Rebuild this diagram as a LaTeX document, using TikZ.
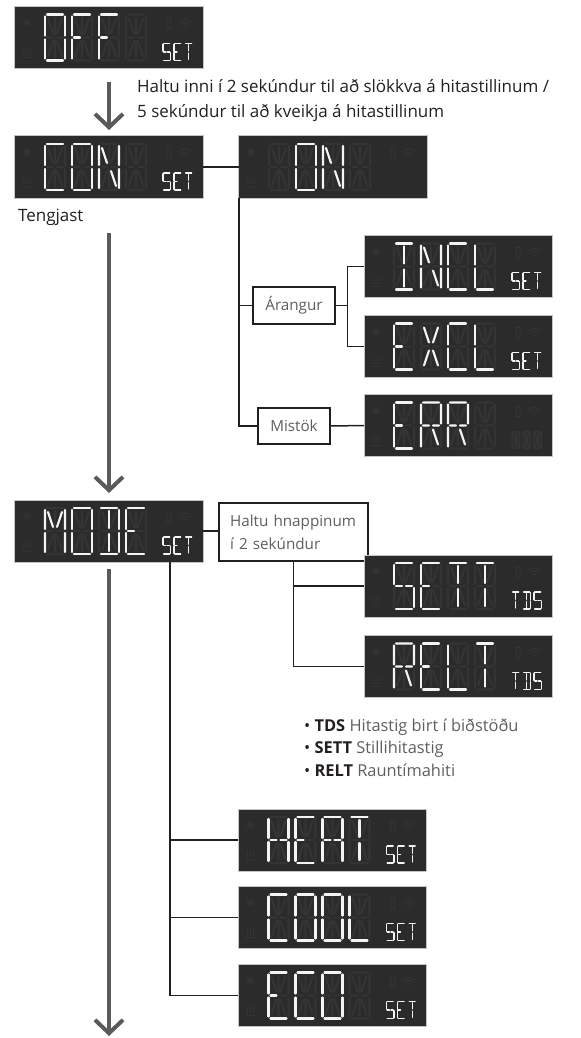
\documentclass[tikz,border=0pt]{standalone}
\usepackage{fontspec}
\setmainfont{Open Sans}
\usetikzlibrary{arrows.meta}

\tikzset{
  sg/a/.style={insert path={(2,0)--(18,0)}},
  sg/b/.style={insert path={(20,2)--(20,21)}},
  sg/c/.style={insert path={(20,25)--(20,44)}},
  sg/d/.style={insert path={(2,46)--(18,46)}},
  sg/e/.style={insert path={(0,25)--(0,44)}},
  sg/f/.style={insert path={(0,2)--(0,21)}},
  sg/g/.style={insert path={(2,23)--(8,23)}},
  sg/p/.style={insert path={(12,23)--(18,23)}},
  sg/h/.style={insert path={(3,4)--(8,19)}},
  sg/i/.style={insert path={(10,3)--(10,20)}},
  sg/j/.style={insert path={(17,4)--(12,19)}},
  sg/k/.style={insert path={(8,27)--(3,42)}},
  sg/l/.style={insert path={(10,26)--(10,43)}},
  sg/m/.style={insert path={(12,27)--(17,42)}},
  ch/all/.style={sg/a,sg/b,sg/c,sg/d,sg/e,sg/f,sg/g,sg/p,sg/h,sg/i,sg/j,sg/k,sg/l,sg/m},
  ch/none/.style={},
  ch/A/.style={sg/a,sg/b,sg/c,sg/e,sg/f,sg/g,sg/p},
  ch/C/.style={sg/a,sg/d,sg/e,sg/f},
  ch/D/.style={sg/a,sg/b,sg/c,sg/d,sg/i,sg/l},
  ch/E/.style={sg/a,sg/d,sg/e,sg/f,sg/g},
  ch/F/.style={sg/a,sg/e,sg/f,sg/g},
  ch/H/.style={sg/b,sg/c,sg/e,sg/f,sg/g,sg/p},
  ch/I/.style={sg/a,sg/d,sg/i,sg/l},
  ch/L/.style={sg/d,sg/e,sg/f},
  ch/M/.style={sg/b,sg/c,sg/e,sg/f,sg/h,sg/j},
  ch/N/.style={sg/b,sg/c,sg/e,sg/f,sg/h,sg/m},
  ch/O/.style={sg/a,sg/b,sg/c,sg/d,sg/e,sg/f},
  ch/R/.style={sg/a,sg/b,sg/e,sg/f,sg/g,sg/p,sg/m},
  ch/S/.style={sg/a,sg/c,sg/d,sg/f,sg/g,sg/p},
  ch/T/.style={sg/a,sg/i,sg/l},
  ch/X/.style={sg/h,sg/j,sg/k,sg/m},
}

\newcommand\lcd[4]{%
  \node[lcd] (#1) at (#2) {};
  \begin{scope}[shift={(#1.north west)}]
    \foreach \c in {1,...,4}{\draw[dim,shift={(3+27*\c,8)},ch/all];}
    \foreach \c/\l in {#3}{\draw[lit,shift={(3+27*\c,8)},ch/\l];}
    \foreach \l [count=\c] in {#4}{\draw[small,shift={(137+11*\c,37)},scale=0.37,ch/\l];}
    \draw[dim,line width=0.3mm] (8,16)--(16,16) (12,12)--(12,20) (9,13)--(15,19) (9,19)--(15,13)
      (7,51)--(17,51) (9,48)--(9,42) (12,48)--(12,42) (15,48)--(15,42)
      (152,12) rectangle (156,22);
    \foreach \r in {3,6,9}{\draw[dim,line width=0.3mm] (170,22) ++(225:\r) arc[start angle=225,end angle=315,radius=\r];}
  \end{scope}}

\begin{document}
\begin{tikzpicture}[x=0.03cm,y=-0.03cm,font=\fontsize{14.5}{21.25}\selectfont,
  lcd/.style={draw=lcdrim,line width=0.3mm,fill=lcdbg,minimum width=56.4mm,minimum height=18.6mm,inner sep=0pt,outer sep=0pt},
  lit/.style={draw=lcdon,line width=0.65mm,line cap=round},
  dim/.style={draw=lcdoff,line width=0.65mm,line cap=round},
  small/.style={draw=lcdon,line width=0.4mm,line cap=round},
  wire/.style={draw=ink,line width=0.45mm},
  flow/.style={draw=flowc,line width=1.2mm,-{Straight Barb[length=4mm,width=8.4mm]}},
  note/.style={draw=ink,line width=0.35mm,fill=white,text=soft,inner sep=0pt,font=\fontsize{13}{20}\selectfont}]
  \definecolor{lcdbg}{HTML}{2B2B2B}
  \definecolor{lcdrim}{HTML}{C4C4C4}
  \definecolor{lcdon}{HTML}{F4F4F4}
  \definecolor{lcdoff}{HTML}{343434}
  \definecolor{ink}{HTML}{231F20}
  \definecolor{soft}{HTML}{5E5F61}
  \definecolor{flowc}{HTML}{5A5A5A}
  \path[use as bounding box] (0,0) rectangle (580,1038);

  \lcd{off}{109,37.5}{1/O,2/F,3/F}{S,E,T}
  \lcd{con}{109,167}{1/C,2/O,3/N}{S,E,T}
  \lcd{on}{333,167}{2/O,3/N}{none}
  \lcd{incl}{458,266.5}{1/I,2/N,3/C,4/L}{S,E,T}
  \lcd{excl}{458,346.5}{1/E,2/X,3/C,4/L}{S,E,T}
  \lcd{err}{458,425.5}{1/E,2/R,3/R}{none}
  \begin{scope}[shift={(err.north west)}]
    \foreach \c in {1,2,3}{\draw[dim,line width=0.4mm,shift={(137+11*\c,37)},scale=0.37,ch/all];}
  \end{scope}
  \lcd{mode}{109,531}{1/M,2/O,3/D,4/E}{S,E,T}

  \node[anchor=west,align=left,text=ink] (hint) at (133,100.5)
    {Haltu inni í 2 sekúndur til að slökkva á hitastillinum /\\5 sekúndur til að kveikja á hitastillinum};
  \node[anchor=west,text=ink] (tengjast) at (14,217) {Tengjast};

  \node[note,minimum width=24.6mm,minimum height=11.1mm] (arangur) at (294,305.5) {Árangur};
  \node[note,minimum width=21.6mm,minimum height=10.8mm] (mistok) at (294,426) {Mistök};
  \node[note,minimum width=44.7mm,minimum height=17.4mm,text width=38mm,align=left] (hold) at (293.5,532)
    {Haltu hnappinum\\í 2 sekúndur};

  \lcd{sett}{458,586}{1/S,2/E,3/T,4/T}{T,D,S}
  \lcd{relt}{458,666.5}{1/R,2/E,3/L,4/T}{T,D,S}
  \lcd{heat}{332.5,840}{1/H,2/E,3/A,4/T}{S,E,T}
  \lcd{cool}{332.5,917.5}{1/C,2/O,3/O,4/L}{S,E,T}
  \lcd{eco}{332.5,995.5}{1/E,2/C,3/O}{S,E,T}

  \node[anchor=north west,align=left,text=soft,font=\fontsize{14}{19}\selectfont] (legend) at (300,715)
    {\textcolor{ink}{\textbullet\ \textbf{TDS}} Hitastig birt í biðstöðu\\
     \textcolor{ink}{\textbullet\ \textbf{SETT}} Stillihitastig\\
     \textcolor{ink}{\textbullet\ \textbf{RELT}} Rauntímahiti};

  \draw[wire] (con.east) -- (on.west);
  \draw[wire] (on.south west) |- (mistok.west);
  \draw[wire] (on.south west |- arangur.west) -- (arangur.west);
  \draw[wire] (arangur.east) -- ++(12,0) |- (incl.west);
  \draw[wire] (arangur.east) ++(12,0) |- (excl.west);
  \draw[wire] (mistok.east) -- (err.west);
  \draw[wire] (mode.east) -- (mode.east -| hold.west);
  \draw[wire] (hold.south) |- (sett.west);
  \draw[wire] (hold.south) |- (relt.west);
  \draw[wire] (mode.south east) ++(-33,0) |- (heat.west);
  \draw[wire] (mode.south east) ++(-33,0) |- (cool.west);
  \draw[wire] (mode.south east) ++(-33,0) |- (eco.west);

  \coordinate (bottom) at (109,1036);
  \draw[flow,shorten <=3.9mm,shorten >=1.8mm] (off.south) -- (con.north);
  \draw[flow,shorten <=10.5mm,shorten >=2.1mm] (con.south) -- (mode.north);
  \draw[flow,shorten <=2.1mm] (mode.south) -- (bottom);
\end{tikzpicture}
\end{document}
